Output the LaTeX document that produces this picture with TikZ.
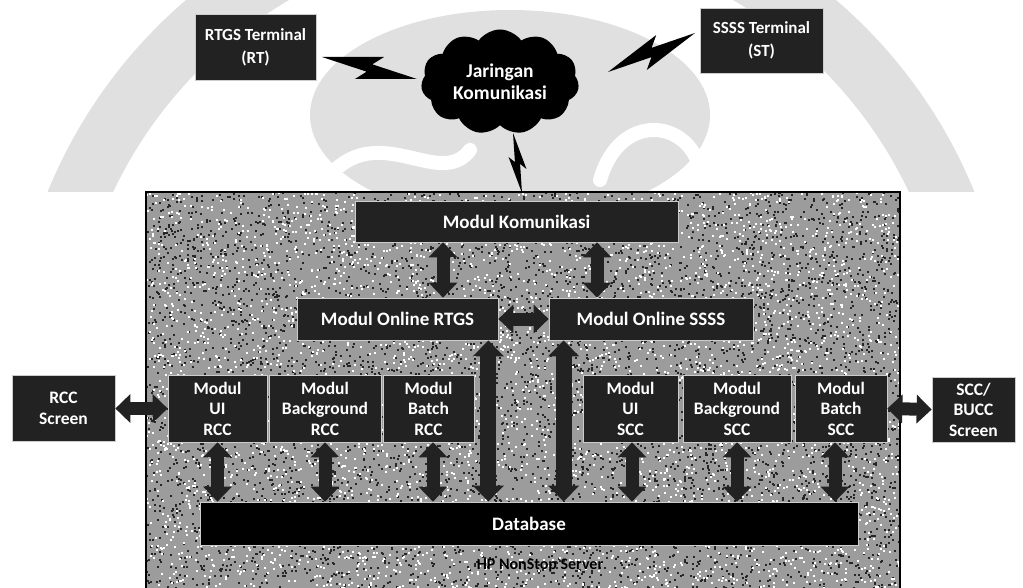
\documentclass[tikz,border=0pt]{standalone}
\usepackage{fontspec}
\setmainfont{Carlito}
\usetikzlibrary{shapes.symbols,arrows.meta,calc}

\definecolor{boxfill}{HTML}{222222}
\definecolor{panelfill}{HTML}{9C9C9C}
\definecolor{wmark}{HTML}{E0E0E0}

\tikzset{
  darkbox/.style={fill=boxfill, draw=white!80!black, line width=0.7pt, text=white,
    font=\bfseries\fontsize{17.5}{20.5}\selectfont, align=center, inner sep=0pt},
  bigtext/.style={font=\bfseries\fontsize{19}{22}\selectfont},
  dblarrow/.style={line width=13pt, draw=boxfill,
    {Triangle[length=15pt,width=28pt]}-{Triangle[length=15pt,width=28pt]}},
  tallarrow/.style={line width=16pt, draw=boxfill,
    {Triangle[length=16pt,width=30pt]}-{Triangle[length=16pt,width=30pt]}},
}

% filled lightning bolt between two points
\newcommand\lightning[3]{%
  \fill[black] (#1)
    -- ($(#1)!0.62!(#2)!#3!90:(#2)$)
    -- ($(#1)!0.52!(#2)!0.3*#3!90:(#2)$)
    -- (#2)
    -- ($(#1)!0.38!(#2)!#3!-90:(#2)$)
    -- ($(#1)!0.48!(#2)!0.3*#3!-90:(#2)$)
    -- cycle;}

\begin{document}
\begin{tikzpicture}[x=1pt,y=-1pt]
\useasboundingbox (0,0) rectangle (1023,588);
\clip (0,0) rectangle (1023,588);
\fill[white] (0,0) rectangle (1023,588);

% faint emblem in the upper background
\begin{scope}
  \clip (0,0) rectangle (1023,192);
  \draw[wmark, line width=60pt] (511,380) circle [radius=470];
  \fill[wmark] (510,115) ellipse [x radius=200, y radius=105];
  \draw[white, line width=14pt, line cap=round] (330,175) .. controls (380,120) and (440,190) .. (470,150);
  \draw[white, line width=14pt, line cap=round] (600,180) .. controls (620,110) and (690,120) .. (700,170);
\end{scope}

% terminals and network
\node[darkbox, minimum width=121pt, minimum height=66pt, font=\bfseries\fontsize{17}{23}\selectfont] (rt) at (255.5,47) {RTGS Terminal\\(RT)};
\node[darkbox, minimum width=123pt, minimum height=65pt, font=\bfseries\fontsize{17}{23}\selectfont] (st) at (761.5,40.5) {SSSS Terminal\\(ST)};
\node[cloud, cloud puffs=11, cloud puff arc=110, aspect=1.5, fill=black, text=white,
      minimum width=158pt, minimum height=105pt, inner sep=0pt, align=center,
      font=\bfseries\fontsize{19.5}{22}\selectfont] (net) at (500,82) {Jaringan\\Komunikasi};

\coordinate (b1a) at (322,57);  \coordinate (b1b) at (417,79);
\coordinate (b2a) at (608,72);  \coordinate (b2b) at (695,33);
\coordinate (b3a) at (513,133); \coordinate (b3b) at (522,193);
\lightning{b1a}{b1b}{14pt}
\lightning{b2a}{b2b}{14pt}
\lightning{b3a}{b3b}{8pt}

% server panel with a grainy texture
\fill[panelfill] (146,192) rectangle (900,600);
\begin{scope}
  \clip (146,192) rectangle (900,600);
  \pgfmathsetseed{4711}
  \foreach \i in {1,...,6000} {
    \pgfmathsetmacro\px{146+754*rnd}
    \pgfmathsetmacro\py{192+400*rnd}
    \fill[black!85] (\px,\py) rectangle +(2,2);
  }
  \foreach \i in {1,...,4500} {
    \pgfmathsetmacro\px{146+754*rnd}
    \pgfmathsetmacro\py{192+400*rnd}
    \fill[white] (\px,\py) rectangle +(2,2);
  }
\end{scope}
\draw[line width=1.3pt] (146,192) rectangle (900,600);
\node[font=\bfseries\fontsize{16}{18}\selectfont, text=black] (hp) at (540,566) {HP NonStop Server};

% modules
\node[darkbox, bigtext, minimum width=323pt, minimum height=41pt] (kom) at (516.5,221.5) {Modul Komunikasi};
\node[darkbox, bigtext, minimum width=201pt, minimum height=42pt] (onr) at (397.5,319) {Modul Online RTGS};
\node[darkbox, bigtext, minimum width=204pt, minimum height=42pt] (ons) at (651,319) {Modul Online SSSS};

\node[darkbox, minimum width=99pt,  minimum height=67pt] (uir) at (217.5,408.5) {Modul\\UI\\RCC};
\node[darkbox, minimum width=112pt, minimum height=67pt] (bgr) at (325,408.5) {Modul\\Background\\RCC};
\node[darkbox, minimum width=91pt,  minimum height=67pt] (bar) at (428.5,408.5) {Modul\\Batch\\RCC};
\node[darkbox, minimum width=95pt,  minimum height=67pt] (uis) at (630.5,408.5) {Modul\\UI\\SCC};
\node[darkbox, minimum width=108pt, minimum height=67pt] (bgs) at (737,408.5) {Modul\\Background\\SCC};
\node[darkbox, minimum width=92pt,  minimum height=67pt] (bas) at (841,408.5) {Modul\\Batch\\SCC};

\node[darkbox, minimum width=103pt, minimum height=66pt] (rsc) at (63.5,408.5) {RCC\\Screen};
\node[darkbox, minimum width=83pt,  minimum height=65pt] (ssc) at (973.5,409.5) {SCC/\\BUCC\\Screen};

\node[darkbox, bigtext, fill=black, minimum width=658pt, minimum height=43pt] (db) at (529,523.5) {Database};

% connections
\draw[dblarrow] ([xshift=45.5pt]onr.north |- kom.south) -- ([xshift=45.5pt]onr.north);
\draw[dblarrow] ([xshift=-54pt]ons.north |- kom.south) -- ([xshift=-54pt]ons.north);
\draw[dblarrow] (onr.east) -- (ons.west);
\draw[tallarrow] ([xshift=-10pt]onr.south east) -- ([xshift=-10pt]onr.south east |- db.north);
\draw[tallarrow] ([xshift=15pt]ons.south west) -- ([xshift=15pt]ons.south west |- db.north);

\draw[dblarrow] (uir.south) -- (uir.south |- db.north);
\draw[dblarrow] (bgr.south) -- (bgr.south |- db.north);
\draw[dblarrow] ([xshift=4.5pt]bar.south) -- ([xshift=4.5pt]bar.south |- db.north);
\draw[dblarrow] ([xshift=1.5pt]uis.south) -- ([xshift=1.5pt]uis.south |- db.north);
\draw[dblarrow] (bgs.south) -- (bgs.south |- db.north);
\draw[dblarrow] ([xshift=-6pt]bas.south) -- ([xshift=-6pt]bas.south |- db.north);

\draw[dblarrow] (rsc.east) -- (uir.west);
\draw[dblarrow] (bas.east) -- (ssc.west);
\end{tikzpicture}
\end{document}
